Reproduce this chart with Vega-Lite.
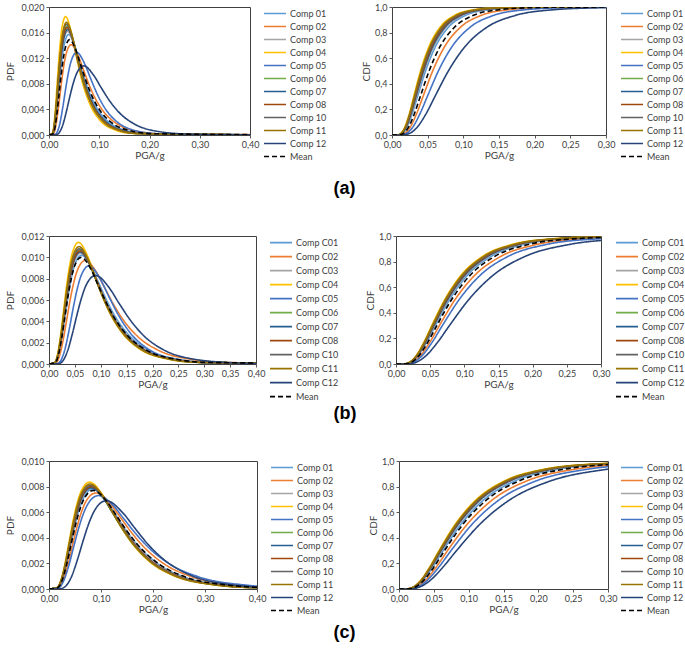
{
"$schema":"https://vega.github.io/schema/vega-lite/v6.json",
"background":"white",
"padding":{"left":4,"right":0,"top":2,"bottom":0},
"config":{
"font":"Lato",
"view":{"stroke":"#404040","strokeWidth":1},
"axis":{"grid":false,"domain":false,"tickColor":"#595959","tickSize":3,"labelFont":"Lato","labelFontSize":9,"labelColor":"#404040","titleFont":"Lato","titleFontSize":10,"titleFontWeight":"normal","titleColor":"#404040","labelPadding":2,"titlePadding":1,"labelOverlap":false,"labelFlush":false},
"legend":{"symbolType":"stroke","symbolSize":484,"symbolStrokeWidth":2,"clipHeight":13,"rowPadding":0,"labelFont":"Lato","labelFontSize":9,"labelColor":"#404040","offset":13,"padding":0,"labelOffset":3},
"line":{"strokeWidth":1.6,"interpolate":"monotone"}
},
"datasets":{
"aP":[
{"s":"Comp 01","x":0,"y":0},{"s":"Comp 01","x":0.0078,"y":0.00022},{"s":"Comp 01","x":0.0117,"y":0.00143},{"s":"Comp 01","x":0.0156,"y":0.00392},{"s":"Comp 01","x":0.0195,"y":0.0071},{"s":"Comp 01","x":0.0234,"y":0.0102},{"s":"Comp 01","x":0.0273,"y":0.01272},{"s":"Comp 01","x":0.0312,"y":0.01446},{"s":"Comp 01","x":0.039,"y":0.0157},{"s":"Comp 01","x":0.0507,"y":0.01401},{"s":"Comp 01","x":0.0585,"y":0.01196},{"s":"Comp 01","x":0.0683,"y":0.00936},{"s":"Comp 01","x":0.078,"y":0.0071},{"s":"Comp 01","x":0.0975,"y":0.00392},{"s":"Comp 01","x":0.117,"y":0.00214},{"s":"Comp 01","x":0.156,"y":0.00065},{"s":"Comp 01","x":0.195,"y":0.00022},{"s":"Comp 01","x":0.507,"y":0},
{"s":"Comp 02","x":0,"y":0},{"s":"Comp 02","x":0.0088,"y":0.00019},{"s":"Comp 02","x":0.0132,"y":0.00128},{"s":"Comp 02","x":0.0176,"y":0.00352},{"s":"Comp 02","x":0.022,"y":0.00637},{"s":"Comp 02","x":0.0264,"y":0.00916},{"s":"Comp 02","x":0.0308,"y":0.01143},{"s":"Comp 02","x":0.0352,"y":0.01299},{"s":"Comp 02","x":0.044,"y":0.0141},{"s":"Comp 02","x":0.0572,"y":0.01258},{"s":"Comp 02","x":0.066,"y":0.01075},{"s":"Comp 02","x":0.077,"y":0.0084},{"s":"Comp 02","x":0.088,"y":0.00637},{"s":"Comp 02","x":0.11,"y":0.00352},{"s":"Comp 02","x":0.132,"y":0.00192},{"s":"Comp 02","x":0.176,"y":0.00059},{"s":"Comp 02","x":0.22,"y":0.00019},{"s":"Comp 02","x":0.572,"y":0},
{"s":"Comp 03","x":0,"y":0},{"s":"Comp 03","x":0.0074,"y":0.00022},{"s":"Comp 03","x":0.0111,"y":0.00148},{"s":"Comp 03","x":0.0148,"y":0.00404},{"s":"Comp 03","x":0.0185,"y":0.00732},{"s":"Comp 03","x":0.0222,"y":0.01053},{"s":"Comp 03","x":0.0259,"y":0.01313},{"s":"Comp 03","x":0.0296,"y":0.01492},{"s":"Comp 03","x":0.037,"y":0.0162},{"s":"Comp 03","x":0.0481,"y":0.01446},{"s":"Comp 03","x":0.0555,"y":0.01235},{"s":"Comp 03","x":0.0648,"y":0.00965},{"s":"Comp 03","x":0.074,"y":0.00732},{"s":"Comp 03","x":0.0925,"y":0.00404},{"s":"Comp 03","x":0.111,"y":0.0022},{"s":"Comp 03","x":0.148,"y":0.00068},{"s":"Comp 03","x":0.185,"y":0.00022},{"s":"Comp 03","x":0.481,"y":0},
{"s":"Comp 04","x":0,"y":0},{"s":"Comp 04","x":0.0066,"y":0.00026},{"s":"Comp 04","x":0.0099,"y":0.00169},{"s":"Comp 04","x":0.0132,"y":0.00462},{"s":"Comp 04","x":0.0165,"y":0.00836},{"s":"Comp 04","x":0.0198,"y":0.01202},{"s":"Comp 04","x":0.0231,"y":0.01499},{"s":"Comp 04","x":0.0264,"y":0.01704},{"s":"Comp 04","x":0.033,"y":0.0185},{"s":"Comp 04","x":0.0429,"y":0.01651},{"s":"Comp 04","x":0.0495,"y":0.0141},{"s":"Comp 04","x":0.0578,"y":0.01102},{"s":"Comp 04","x":0.066,"y":0.00836},{"s":"Comp 04","x":0.0825,"y":0.00462},{"s":"Comp 04","x":0.099,"y":0.00252},{"s":"Comp 04","x":0.132,"y":0.00077},{"s":"Comp 04","x":0.165,"y":0.00026},{"s":"Comp 04","x":0.429,"y":0},
{"s":"Comp 05","x":0,"y":0},{"s":"Comp 05","x":0.011,"y":0.00004},{"s":"Comp 05","x":0.0165,"y":0.00049},{"s":"Comp 05","x":0.022,"y":0.00193},{"s":"Comp 05","x":0.0275,"y":0.00435},{"s":"Comp 05","x":0.033,"y":0.00715},{"s":"Comp 05","x":0.0385,"y":0.00967},{"s":"Comp 05","x":0.044,"y":0.01152},{"s":"Comp 05","x":0.055,"y":0.0129},{"s":"Comp 05","x":0.0715,"y":0.01104},{"s":"Comp 05","x":0.0825,"y":0.00889},{"s":"Comp 05","x":0.0963,"y":0.00635},{"s":"Comp 05","x":0.11,"y":0.00435},{"s":"Comp 05","x":0.1375,"y":0.00193},{"s":"Comp 05","x":0.165,"y":0.00084},{"s":"Comp 05","x":0.22,"y":0.00017},{"s":"Comp 05","x":0.275,"y":0.00004},{"s":"Comp 05","x":0.715,"y":0},
{"s":"Comp 06","x":0,"y":0},{"s":"Comp 06","x":0.0072,"y":0.00023},{"s":"Comp 06","x":0.0108,"y":0.00155},{"s":"Comp 06","x":0.0144,"y":0.00424},{"s":"Comp 06","x":0.018,"y":0.00768},{"s":"Comp 06","x":0.0216,"y":0.01104},{"s":"Comp 06","x":0.0252,"y":0.01378},{"s":"Comp 06","x":0.0288,"y":0.01566},{"s":"Comp 06","x":0.036,"y":0.017},{"s":"Comp 06","x":0.0468,"y":0.01517},{"s":"Comp 06","x":0.054,"y":0.01296},{"s":"Comp 06","x":0.063,"y":0.01013},{"s":"Comp 06","x":0.072,"y":0.00768},{"s":"Comp 06","x":0.09,"y":0.00424},{"s":"Comp 06","x":0.108,"y":0.00231},{"s":"Comp 06","x":0.144,"y":0.00071},{"s":"Comp 06","x":0.18,"y":0.00023},{"s":"Comp 06","x":0.468,"y":0},
{"s":"Comp 07","x":0,"y":0},{"s":"Comp 07","x":0.0074,"y":0.00023},{"s":"Comp 07","x":0.0111,"y":0.0015},{"s":"Comp 07","x":0.0148,"y":0.00412},{"s":"Comp 07","x":0.0185,"y":0.00746},{"s":"Comp 07","x":0.0222,"y":0.01072},{"s":"Comp 07","x":0.0259,"y":0.01337},{"s":"Comp 07","x":0.0296,"y":0.0152},{"s":"Comp 07","x":0.037,"y":0.0165},{"s":"Comp 07","x":0.0481,"y":0.01473},{"s":"Comp 07","x":0.0555,"y":0.01257},{"s":"Comp 07","x":0.0648,"y":0.00983},{"s":"Comp 07","x":0.074,"y":0.00746},{"s":"Comp 07","x":0.0925,"y":0.00412},{"s":"Comp 07","x":0.111,"y":0.00224},{"s":"Comp 07","x":0.148,"y":0.00069},{"s":"Comp 07","x":0.185,"y":0.00023},{"s":"Comp 07","x":0.481,"y":0},
{"s":"Comp 08","x":0,"y":0},{"s":"Comp 08","x":0.0072,"y":0.00023},{"s":"Comp 08","x":0.0108,"y":0.00153},{"s":"Comp 08","x":0.0144,"y":0.00419},{"s":"Comp 08","x":0.018,"y":0.00759},{"s":"Comp 08","x":0.0216,"y":0.01091},{"s":"Comp 08","x":0.0252,"y":0.01361},{"s":"Comp 08","x":0.0288,"y":0.01547},{"s":"Comp 08","x":0.036,"y":0.0168},{"s":"Comp 08","x":0.0468,"y":0.01499},{"s":"Comp 08","x":0.054,"y":0.0128},{"s":"Comp 08","x":0.063,"y":0.01001},{"s":"Comp 08","x":0.072,"y":0.00759},{"s":"Comp 08","x":0.09,"y":0.00419},{"s":"Comp 08","x":0.108,"y":0.00228},{"s":"Comp 08","x":0.144,"y":0.0007},{"s":"Comp 08","x":0.18,"y":0.00023},{"s":"Comp 08","x":0.468,"y":0},
{"s":"Comp 10","x":0,"y":0},{"s":"Comp 10","x":0.007,"y":0.00024},{"s":"Comp 10","x":0.0105,"y":0.00158},{"s":"Comp 10","x":0.014,"y":0.00432},{"s":"Comp 10","x":0.0175,"y":0.00782},{"s":"Comp 10","x":0.021,"y":0.01124},{"s":"Comp 10","x":0.0245,"y":0.01402},{"s":"Comp 10","x":0.028,"y":0.01593},{"s":"Comp 10","x":0.035,"y":0.0173},{"s":"Comp 10","x":0.0455,"y":0.01544},{"s":"Comp 10","x":0.0525,"y":0.01318},{"s":"Comp 10","x":0.0613,"y":0.01031},{"s":"Comp 10","x":0.07,"y":0.00782},{"s":"Comp 10","x":0.0875,"y":0.00432},{"s":"Comp 10","x":0.105,"y":0.00235},{"s":"Comp 10","x":0.14,"y":0.00072},{"s":"Comp 10","x":0.175,"y":0.00024},{"s":"Comp 10","x":0.455,"y":0},
{"s":"Comp 11","x":0,"y":0},{"s":"Comp 11","x":0.007,"y":0.00024},{"s":"Comp 11","x":0.0105,"y":0.0016},{"s":"Comp 11","x":0.014,"y":0.00439},{"s":"Comp 11","x":0.0175,"y":0.00796},{"s":"Comp 11","x":0.021,"y":0.01143},{"s":"Comp 11","x":0.0245,"y":0.01426},{"s":"Comp 11","x":0.028,"y":0.01621},{"s":"Comp 11","x":0.035,"y":0.0176},{"s":"Comp 11","x":0.0455,"y":0.01571},{"s":"Comp 11","x":0.0525,"y":0.01341},{"s":"Comp 11","x":0.0613,"y":0.01049},{"s":"Comp 11","x":0.07,"y":0.00796},{"s":"Comp 11","x":0.0875,"y":0.00439},{"s":"Comp 11","x":0.105,"y":0.00239},{"s":"Comp 11","x":0.14,"y":0.00073},{"s":"Comp 11","x":0.175,"y":0.00024},{"s":"Comp 11","x":0.455,"y":0},
{"s":"Comp 12","x":0,"y":0},{"s":"Comp 12","x":0.0138,"y":0.00003},{"s":"Comp 12","x":0.0207,"y":0.00041},{"s":"Comp 12","x":0.0276,"y":0.00161},{"s":"Comp 12","x":0.0345,"y":0.00364},{"s":"Comp 12","x":0.0414,"y":0.00598},{"s":"Comp 12","x":0.0483,"y":0.0081},{"s":"Comp 12","x":0.0552,"y":0.00965},{"s":"Comp 12","x":0.069,"y":0.0108},{"s":"Comp 12","x":0.0897,"y":0.00924},{"s":"Comp 12","x":0.1035,"y":0.00744},{"s":"Comp 12","x":0.1208,"y":0.00532},{"s":"Comp 12","x":0.138,"y":0.00364},{"s":"Comp 12","x":0.1725,"y":0.00161},{"s":"Comp 12","x":0.207,"y":0.0007},{"s":"Comp 12","x":0.276,"y":0.00014},{"s":"Comp 12","x":0.345,"y":0.00003},{"s":"Comp 12","x":0.897,"y":0},
{"s":"Mean","x":0,"y":0},{"s":"Mean","x":0.0082,"y":0.00021},{"s":"Mean","x":0.0123,"y":0.00136},{"s":"Mean","x":0.0164,"y":0.00372},{"s":"Mean","x":0.0205,"y":0.00673},{"s":"Mean","x":0.0246,"y":0.00968},{"s":"Mean","x":0.0287,"y":0.01207},{"s":"Mean","x":0.0328,"y":0.01372},{"s":"Mean","x":0.041,"y":0.0149},{"s":"Mean","x":0.0533,"y":0.0133},{"s":"Mean","x":0.0615,"y":0.01136},{"s":"Mean","x":0.0718,"y":0.00888},{"s":"Mean","x":0.082,"y":0.00673},{"s":"Mean","x":0.1025,"y":0.00372},{"s":"Mean","x":0.123,"y":0.00203},{"s":"Mean","x":0.164,"y":0.00062},{"s":"Mean","x":0.205,"y":0.00021},{"s":"Mean","x":0.533,"y":0}
],
"aC":[
{"s":"Comp 01","x":0,"y":0},{"s":"Comp 01","x":0.0099,"y":0.0013},{"s":"Comp 01","x":0.0128,"y":0.0062},{"s":"Comp 01","x":0.0166,"y":0.0228},{"s":"Comp 01","x":0.0215,"y":0.0668},{"s":"Comp 01","x":0.0279,"y":0.1587},{"s":"Comp 01","x":0.0362,"y":0.3085},{"s":"Comp 01","x":0.047,"y":0.5},{"s":"Comp 01","x":0.061,"y":0.6915},{"s":"Comp 01","x":0.0791,"y":0.8413},{"s":"Comp 01","x":0.1025,"y":0.9332},{"s":"Comp 01","x":0.133,"y":0.9772},{"s":"Comp 01","x":0.1725,"y":0.9938},{"s":"Comp 01","x":0.2237,"y":0.9987},{"s":"Comp 01","x":0.2901,"y":0.9998},{"s":"Comp 01","x":0.35,"y":1},
{"s":"Comp 02","x":0,"y":0},{"s":"Comp 02","x":0.012,"y":0.0013},{"s":"Comp 02","x":0.0155,"y":0.0062},{"s":"Comp 02","x":0.0201,"y":0.0228},{"s":"Comp 02","x":0.0261,"y":0.0668},{"s":"Comp 02","x":0.0339,"y":0.1587},{"s":"Comp 02","x":0.044,"y":0.3085},{"s":"Comp 02","x":0.057,"y":0.5},{"s":"Comp 02","x":0.0739,"y":0.6915},{"s":"Comp 02","x":0.0959,"y":0.8413},{"s":"Comp 02","x":0.1243,"y":0.9332},{"s":"Comp 02","x":0.1613,"y":0.9772},{"s":"Comp 02","x":0.2092,"y":0.9938},{"s":"Comp 02","x":0.2713,"y":0.9987},{"s":"Comp 02","x":0.3518,"y":0.9998},
{"s":"Comp 03","x":0,"y":0},{"s":"Comp 03","x":0.0095,"y":0.0013},{"s":"Comp 03","x":0.0123,"y":0.0062},{"s":"Comp 03","x":0.0159,"y":0.0228},{"s":"Comp 03","x":0.0206,"y":0.0668},{"s":"Comp 03","x":0.0268,"y":0.1587},{"s":"Comp 03","x":0.0347,"y":0.3085},{"s":"Comp 03","x":0.045,"y":0.5},{"s":"Comp 03","x":0.0584,"y":0.6915},{"s":"Comp 03","x":0.0757,"y":0.8413},{"s":"Comp 03","x":0.0982,"y":0.9332},{"s":"Comp 03","x":0.1273,"y":0.9772},{"s":"Comp 03","x":0.1651,"y":0.9938},{"s":"Comp 03","x":0.2141,"y":0.9987},{"s":"Comp 03","x":0.2777,"y":0.9998},{"s":"Comp 03","x":0.35,"y":1},
{"s":"Comp 04","x":0,"y":0},{"s":"Comp 04","x":0.0084,"y":0.0013},{"s":"Comp 04","x":0.0109,"y":0.0062},{"s":"Comp 04","x":0.0141,"y":0.0228},{"s":"Comp 04","x":0.0183,"y":0.0668},{"s":"Comp 04","x":0.0238,"y":0.1587},{"s":"Comp 04","x":0.0308,"y":0.3085},{"s":"Comp 04","x":0.04,"y":0.5},{"s":"Comp 04","x":0.0519,"y":0.6915},{"s":"Comp 04","x":0.0673,"y":0.8413},{"s":"Comp 04","x":0.0873,"y":0.9332},{"s":"Comp 04","x":0.1132,"y":0.9772},{"s":"Comp 04","x":0.1468,"y":0.9938},{"s":"Comp 04","x":0.1904,"y":0.9987},{"s":"Comp 04","x":0.2469,"y":0.9998},{"s":"Comp 04","x":0.35,"y":1},
{"s":"Comp 05","x":0,"y":0},{"s":"Comp 05","x":0.0137,"y":0.0013},{"s":"Comp 05","x":0.0177,"y":0.0062},{"s":"Comp 05","x":0.023,"y":0.0228},{"s":"Comp 05","x":0.0298,"y":0.0668},{"s":"Comp 05","x":0.0386,"y":0.1587},{"s":"Comp 05","x":0.0501,"y":0.3085},{"s":"Comp 05","x":0.065,"y":0.5},{"s":"Comp 05","x":0.0843,"y":0.6915},{"s":"Comp 05","x":0.1093,"y":0.8413},{"s":"Comp 05","x":0.1418,"y":0.9332},{"s":"Comp 05","x":0.1839,"y":0.9772},{"s":"Comp 05","x":0.2385,"y":0.9938},{"s":"Comp 05","x":0.3093,"y":0.9987},{"s":"Comp 05","x":0.4012,"y":0.9998},
{"s":"Comp 06","x":0,"y":0},{"s":"Comp 06","x":0.009,"y":0.0013},{"s":"Comp 06","x":0.0117,"y":0.0062},{"s":"Comp 06","x":0.0152,"y":0.0228},{"s":"Comp 06","x":0.0197,"y":0.0668},{"s":"Comp 06","x":0.0256,"y":0.1587},{"s":"Comp 06","x":0.0332,"y":0.3085},{"s":"Comp 06","x":0.043,"y":0.5},{"s":"Comp 06","x":0.0558,"y":0.6915},{"s":"Comp 06","x":0.0723,"y":0.8413},{"s":"Comp 06","x":0.0938,"y":0.9332},{"s":"Comp 06","x":0.1217,"y":0.9772},{"s":"Comp 06","x":0.1578,"y":0.9938},{"s":"Comp 06","x":0.2046,"y":0.9987},{"s":"Comp 06","x":0.2654,"y":0.9998},{"s":"Comp 06","x":0.35,"y":1},
{"s":"Comp 07","x":0,"y":0},{"s":"Comp 07","x":0.0092,"y":0.0013},{"s":"Comp 07","x":0.012,"y":0.0062},{"s":"Comp 07","x":0.0156,"y":0.0228},{"s":"Comp 07","x":0.0202,"y":0.0668},{"s":"Comp 07","x":0.0262,"y":0.1587},{"s":"Comp 07","x":0.0339,"y":0.3085},{"s":"Comp 07","x":0.044,"y":0.5},{"s":"Comp 07","x":0.0571,"y":0.6915},{"s":"Comp 07","x":0.074,"y":0.8413},{"s":"Comp 07","x":0.096,"y":0.9332},{"s":"Comp 07","x":0.1245,"y":0.9772},{"s":"Comp 07","x":0.1614,"y":0.9938},{"s":"Comp 07","x":0.2094,"y":0.9987},{"s":"Comp 07","x":0.2716,"y":0.9998},{"s":"Comp 07","x":0.35,"y":1},
{"s":"Comp 08","x":0,"y":0},{"s":"Comp 08","x":0.009,"y":0.0013},{"s":"Comp 08","x":0.0117,"y":0.0062},{"s":"Comp 08","x":0.0152,"y":0.0228},{"s":"Comp 08","x":0.0197,"y":0.0668},{"s":"Comp 08","x":0.0256,"y":0.1587},{"s":"Comp 08","x":0.0332,"y":0.3085},{"s":"Comp 08","x":0.043,"y":0.5},{"s":"Comp 08","x":0.0558,"y":0.6915},{"s":"Comp 08","x":0.0723,"y":0.8413},{"s":"Comp 08","x":0.0938,"y":0.9332},{"s":"Comp 08","x":0.1217,"y":0.9772},{"s":"Comp 08","x":0.1578,"y":0.9938},{"s":"Comp 08","x":0.2046,"y":0.9987},{"s":"Comp 08","x":0.2654,"y":0.9998},{"s":"Comp 08","x":0.35,"y":1},
{"s":"Comp 10","x":0,"y":0},{"s":"Comp 10","x":0.0088,"y":0.0013},{"s":"Comp 10","x":0.0114,"y":0.0062},{"s":"Comp 10","x":0.0148,"y":0.0228},{"s":"Comp 10","x":0.0193,"y":0.0668},{"s":"Comp 10","x":0.025,"y":0.1587},{"s":"Comp 10","x":0.0324,"y":0.3085},{"s":"Comp 10","x":0.042,"y":0.5},{"s":"Comp 10","x":0.0545,"y":0.6915},{"s":"Comp 10","x":0.0706,"y":0.8413},{"s":"Comp 10","x":0.0916,"y":0.9332},{"s":"Comp 10","x":0.1188,"y":0.9772},{"s":"Comp 10","x":0.1541,"y":0.9938},{"s":"Comp 10","x":0.1999,"y":0.9987},{"s":"Comp 10","x":0.2592,"y":0.9998},{"s":"Comp 10","x":0.35,"y":1},
{"s":"Comp 11","x":0,"y":0},{"s":"Comp 11","x":0.0086,"y":0.0013},{"s":"Comp 11","x":0.0112,"y":0.0062},{"s":"Comp 11","x":0.0145,"y":0.0228},{"s":"Comp 11","x":0.0188,"y":0.0668},{"s":"Comp 11","x":0.0244,"y":0.1587},{"s":"Comp 11","x":0.0316,"y":0.3085},{"s":"Comp 11","x":0.041,"y":0.5},{"s":"Comp 11","x":0.0532,"y":0.6915},{"s":"Comp 11","x":0.069,"y":0.8413},{"s":"Comp 11","x":0.0894,"y":0.9332},{"s":"Comp 11","x":0.116,"y":0.9772},{"s":"Comp 11","x":0.1504,"y":0.9938},{"s":"Comp 11","x":0.1951,"y":0.9987},{"s":"Comp 11","x":0.253,"y":0.9998},{"s":"Comp 11","x":0.35,"y":1},
{"s":"Comp 12","x":0,"y":0},{"s":"Comp 12","x":0.0166,"y":0.0013},{"s":"Comp 12","x":0.0215,"y":0.0062},{"s":"Comp 12","x":0.0279,"y":0.0228},{"s":"Comp 12","x":0.0362,"y":0.0668},{"s":"Comp 12","x":0.047,"y":0.1587},{"s":"Comp 12","x":0.0609,"y":0.3085},{"s":"Comp 12","x":0.079,"y":0.5},{"s":"Comp 12","x":0.1025,"y":0.6915},{"s":"Comp 12","x":0.1329,"y":0.8413},{"s":"Comp 12","x":0.1723,"y":0.9332},{"s":"Comp 12","x":0.2235,"y":0.9772},{"s":"Comp 12","x":0.2899,"y":0.9938},{"s":"Comp 12","x":0.3759,"y":0.9987},{"s":"Comp 12","x":0.4876,"y":0.9998},
{"s":"Mean","x":0,"y":0},{"s":"Mean","x":0.0109,"y":0.0013},{"s":"Mean","x":0.0142,"y":0.0062},{"s":"Mean","x":0.0184,"y":0.0228},{"s":"Mean","x":0.0238,"y":0.0668},{"s":"Mean","x":0.0309,"y":0.1587},{"s":"Mean","x":0.0401,"y":0.3085},{"s":"Mean","x":0.052,"y":0.5},{"s":"Mean","x":0.0674,"y":0.6915},{"s":"Mean","x":0.0875,"y":0.8413},{"s":"Mean","x":0.1134,"y":0.9332},{"s":"Mean","x":0.1471,"y":0.9772},{"s":"Mean","x":0.1908,"y":0.9938},{"s":"Mean","x":0.2475,"y":0.9987},{"s":"Mean","x":0.3209,"y":0.9998}
],
"bP":[
{"s":"Comp C01","x":0,"y":0},{"s":"Comp C01","x":0.0126,"y":0.00014},{"s":"Comp C01","x":0.0189,"y":0.00093},{"s":"Comp C01","x":0.0252,"y":0.00255},{"s":"Comp C01","x":0.0315,"y":0.00461},{"s":"Comp C01","x":0.0378,"y":0.00663},{"s":"Comp C01","x":0.0441,"y":0.00827},{"s":"Comp C01","x":0.0504,"y":0.00939},{"s":"Comp C01","x":0.063,"y":0.0102},{"s":"Comp C01","x":0.0819,"y":0.0091},{"s":"Comp C01","x":0.0945,"y":0.00777},{"s":"Comp C01","x":0.1103,"y":0.00608},{"s":"Comp C01","x":0.126,"y":0.00461},{"s":"Comp C01","x":0.1575,"y":0.00255},{"s":"Comp C01","x":0.189,"y":0.00139},{"s":"Comp C01","x":0.252,"y":0.00043},{"s":"Comp C01","x":0.315,"y":0.00014},{"s":"Comp C01","x":0.819,"y":0},
{"s":"Comp C02","x":0,"y":0},{"s":"Comp C02","x":0.014,"y":0.00013},{"s":"Comp C02","x":0.021,"y":0.00088},{"s":"Comp C02","x":0.028,"y":0.00242},{"s":"Comp C02","x":0.035,"y":0.00438},{"s":"Comp C02","x":0.042,"y":0.0063},{"s":"Comp C02","x":0.049,"y":0.00786},{"s":"Comp C02","x":0.056,"y":0.00893},{"s":"Comp C02","x":0.07,"y":0.0097},{"s":"Comp C02","x":0.091,"y":0.00866},{"s":"Comp C02","x":0.105,"y":0.00739},{"s":"Comp C02","x":0.1225,"y":0.00578},{"s":"Comp C02","x":0.14,"y":0.00438},{"s":"Comp C02","x":0.175,"y":0.00242},{"s":"Comp C02","x":0.21,"y":0.00132},{"s":"Comp C02","x":0.28,"y":0.0004},{"s":"Comp C02","x":0.35,"y":0.00013},{"s":"Comp C02","x":0.91,"y":0},
{"s":"Comp C03","x":0,"y":0},{"s":"Comp C03","x":0.0122,"y":0.00014},{"s":"Comp C03","x":0.0183,"y":0.00095},{"s":"Comp C03","x":0.0244,"y":0.0026},{"s":"Comp C03","x":0.0305,"y":0.0047},{"s":"Comp C03","x":0.0366,"y":0.00676},{"s":"Comp C03","x":0.0427,"y":0.00843},{"s":"Comp C03","x":0.0488,"y":0.00958},{"s":"Comp C03","x":0.061,"y":0.0104},{"s":"Comp C03","x":0.0793,"y":0.00928},{"s":"Comp C03","x":0.0915,"y":0.00793},{"s":"Comp C03","x":0.1068,"y":0.0062},{"s":"Comp C03","x":0.122,"y":0.0047},{"s":"Comp C03","x":0.1525,"y":0.0026},{"s":"Comp C03","x":0.183,"y":0.00141},{"s":"Comp C03","x":0.244,"y":0.00043},{"s":"Comp C03","x":0.305,"y":0.00014},{"s":"Comp C03","x":0.793,"y":0},
{"s":"Comp C04","x":0,"y":0},{"s":"Comp C04","x":0.0114,"y":0.00016},{"s":"Comp C04","x":0.0171,"y":0.00104},{"s":"Comp C04","x":0.0228,"y":0.00285},{"s":"Comp C04","x":0.0285,"y":0.00515},{"s":"Comp C04","x":0.0342,"y":0.00741},{"s":"Comp C04","x":0.0399,"y":0.00924},{"s":"Comp C04","x":0.0456,"y":0.0105},{"s":"Comp C04","x":0.057,"y":0.0114},{"s":"Comp C04","x":0.0741,"y":0.01017},{"s":"Comp C04","x":0.0855,"y":0.00869},{"s":"Comp C04","x":0.0998,"y":0.00679},{"s":"Comp C04","x":0.114,"y":0.00515},{"s":"Comp C04","x":0.1425,"y":0.00285},{"s":"Comp C04","x":0.171,"y":0.00155},{"s":"Comp C04","x":0.228,"y":0.00048},{"s":"Comp C04","x":0.285,"y":0.00016},{"s":"Comp C04","x":0.741,"y":0},
{"s":"Comp C05","x":0,"y":0},{"s":"Comp C05","x":0.0154,"y":0.00003},{"s":"Comp C05","x":0.0231,"y":0.00035},{"s":"Comp C05","x":0.0308,"y":0.00138},{"s":"Comp C05","x":0.0385,"y":0.0031},{"s":"Comp C05","x":0.0462,"y":0.0051},{"s":"Comp C05","x":0.0539,"y":0.0069},{"s":"Comp C05","x":0.0616,"y":0.00822},{"s":"Comp C05","x":0.077,"y":0.0092},{"s":"Comp C05","x":0.1001,"y":0.00787},{"s":"Comp C05","x":0.1155,"y":0.00634},{"s":"Comp C05","x":0.1348,"y":0.00453},{"s":"Comp C05","x":0.154,"y":0.0031},{"s":"Comp C05","x":0.1925,"y":0.00138},{"s":"Comp C05","x":0.231,"y":0.0006},{"s":"Comp C05","x":0.308,"y":0.00012},{"s":"Comp C05","x":0.385,"y":0.00003},{"s":"Comp C05","x":1.001,"y":0},
{"s":"Comp C06","x":0,"y":0},{"s":"Comp C06","x":0.0118,"y":0.00015},{"s":"Comp C06","x":0.0177,"y":0.00097},{"s":"Comp C06","x":0.0236,"y":0.00267},{"s":"Comp C06","x":0.0295,"y":0.00484},{"s":"Comp C06","x":0.0354,"y":0.00695},{"s":"Comp C06","x":0.0413,"y":0.00867},{"s":"Comp C06","x":0.0472,"y":0.00985},{"s":"Comp C06","x":0.059,"y":0.0107},{"s":"Comp C06","x":0.0767,"y":0.00955},{"s":"Comp C06","x":0.0885,"y":0.00815},{"s":"Comp C06","x":0.1033,"y":0.00638},{"s":"Comp C06","x":0.118,"y":0.00484},{"s":"Comp C06","x":0.1475,"y":0.00267},{"s":"Comp C06","x":0.177,"y":0.00146},{"s":"Comp C06","x":0.236,"y":0.00045},{"s":"Comp C06","x":0.295,"y":0.00015},{"s":"Comp C06","x":0.767,"y":0},
{"s":"Comp C07","x":0,"y":0},{"s":"Comp C07","x":0.012,"y":0.00014},{"s":"Comp C07","x":0.018,"y":0.00096},{"s":"Comp C07","x":0.024,"y":0.00262},{"s":"Comp C07","x":0.03,"y":0.00475},{"s":"Comp C07","x":0.036,"y":0.00682},{"s":"Comp C07","x":0.042,"y":0.00851},{"s":"Comp C07","x":0.048,"y":0.00967},{"s":"Comp C07","x":0.06,"y":0.0105},{"s":"Comp C07","x":0.078,"y":0.00937},{"s":"Comp C07","x":0.09,"y":0.008},{"s":"Comp C07","x":0.105,"y":0.00626},{"s":"Comp C07","x":0.12,"y":0.00475},{"s":"Comp C07","x":0.15,"y":0.00262},{"s":"Comp C07","x":0.18,"y":0.00143},{"s":"Comp C07","x":0.24,"y":0.00044},{"s":"Comp C07","x":0.3,"y":0.00014},{"s":"Comp C07","x":0.78,"y":0},
{"s":"Comp C08","x":0,"y":0},{"s":"Comp C08","x":0.012,"y":0.00015},{"s":"Comp C08","x":0.018,"y":0.00097},{"s":"Comp C08","x":0.024,"y":0.00265},{"s":"Comp C08","x":0.03,"y":0.00479},{"s":"Comp C08","x":0.036,"y":0.00689},{"s":"Comp C08","x":0.042,"y":0.00859},{"s":"Comp C08","x":0.048,"y":0.00976},{"s":"Comp C08","x":0.06,"y":0.0106},{"s":"Comp C08","x":0.078,"y":0.00946},{"s":"Comp C08","x":0.09,"y":0.00808},{"s":"Comp C08","x":0.105,"y":0.00632},{"s":"Comp C08","x":0.12,"y":0.00479},{"s":"Comp C08","x":0.15,"y":0.00265},{"s":"Comp C08","x":0.18,"y":0.00144},{"s":"Comp C08","x":0.24,"y":0.00044},{"s":"Comp C08","x":0.3,"y":0.00015},{"s":"Comp C08","x":0.78,"y":0},
{"s":"Comp C10","x":0,"y":0},{"s":"Comp C10","x":0.0118,"y":0.00015},{"s":"Comp C10","x":0.0177,"y":0.00098},{"s":"Comp C10","x":0.0236,"y":0.0027},{"s":"Comp C10","x":0.0295,"y":0.00488},{"s":"Comp C10","x":0.0354,"y":0.00702},{"s":"Comp C10","x":0.0413,"y":0.00875},{"s":"Comp C10","x":0.0472,"y":0.00995},{"s":"Comp C10","x":0.059,"y":0.0108},{"s":"Comp C10","x":0.0767,"y":0.00964},{"s":"Comp C10","x":0.0885,"y":0.00823},{"s":"Comp C10","x":0.1033,"y":0.00644},{"s":"Comp C10","x":0.118,"y":0.00488},{"s":"Comp C10","x":0.1475,"y":0.0027},{"s":"Comp C10","x":0.177,"y":0.00147},{"s":"Comp C10","x":0.236,"y":0.00045},{"s":"Comp C10","x":0.295,"y":0.00015},{"s":"Comp C10","x":0.767,"y":0},
{"s":"Comp C11","x":0,"y":0},{"s":"Comp C11","x":0.0116,"y":0.00015},{"s":"Comp C11","x":0.0174,"y":0.001},{"s":"Comp C11","x":0.0232,"y":0.00275},{"s":"Comp C11","x":0.029,"y":0.00497},{"s":"Comp C11","x":0.0348,"y":0.00715},{"s":"Comp C11","x":0.0406,"y":0.00891},{"s":"Comp C11","x":0.0464,"y":0.01013},{"s":"Comp C11","x":0.058,"y":0.011},{"s":"Comp C11","x":0.0754,"y":0.00982},{"s":"Comp C11","x":0.087,"y":0.00838},{"s":"Comp C11","x":0.1015,"y":0.00655},{"s":"Comp C11","x":0.116,"y":0.00497},{"s":"Comp C11","x":0.145,"y":0.00275},{"s":"Comp C11","x":0.174,"y":0.0015},{"s":"Comp C11","x":0.232,"y":0.00046},{"s":"Comp C11","x":0.29,"y":0.00015},{"s":"Comp C11","x":0.754,"y":0},
{"s":"Comp C12","x":0,"y":0},{"s":"Comp C12","x":0.018,"y":0.00002},{"s":"Comp C12","x":0.027,"y":0.00031},{"s":"Comp C12","x":0.036,"y":0.00124},{"s":"Comp C12","x":0.045,"y":0.0028},{"s":"Comp C12","x":0.054,"y":0.0046},{"s":"Comp C12","x":0.063,"y":0.00622},{"s":"Comp C12","x":0.072,"y":0.00742},{"s":"Comp C12","x":0.09,"y":0.0083},{"s":"Comp C12","x":0.117,"y":0.0071},{"s":"Comp C12","x":0.135,"y":0.00572},{"s":"Comp C12","x":0.1575,"y":0.00409},{"s":"Comp C12","x":0.18,"y":0.0028},{"s":"Comp C12","x":0.225,"y":0.00124},{"s":"Comp C12","x":0.27,"y":0.00054},{"s":"Comp C12","x":0.36,"y":0.00011},{"s":"Comp C12","x":0.45,"y":0.00002},{"s":"Comp C12","x":1.17,"y":0},
{"s":"Mean","x":0,"y":0},{"s":"Mean","x":0.0124,"y":0.00014},{"s":"Mean","x":0.0186,"y":0.00091},{"s":"Mean","x":0.0248,"y":0.0025},{"s":"Mean","x":0.031,"y":0.00452},{"s":"Mean","x":0.0372,"y":0.0065},{"s":"Mean","x":0.0434,"y":0.0081},{"s":"Mean","x":0.0496,"y":0.00921},{"s":"Mean","x":0.062,"y":0.01},{"s":"Mean","x":0.0806,"y":0.00893},{"s":"Mean","x":0.093,"y":0.00762},{"s":"Mean","x":0.1085,"y":0.00596},{"s":"Mean","x":0.124,"y":0.00452},{"s":"Mean","x":0.155,"y":0.0025},{"s":"Mean","x":0.186,"y":0.00136},{"s":"Mean","x":0.248,"y":0.00042},{"s":"Mean","x":0.31,"y":0.00014},{"s":"Mean","x":0.806,"y":0}
],
"bC":[
{"s":"Comp C01","x":0,"y":0},{"s":"Comp C01","x":0.0137,"y":0.0013},{"s":"Comp C01","x":0.0183,"y":0.0062},{"s":"Comp C01","x":0.0245,"y":0.0228},{"s":"Comp C01","x":0.0327,"y":0.0668},{"s":"Comp C01","x":0.0437,"y":0.1587},{"s":"Comp C01","x":0.0584,"y":0.3085},{"s":"Comp C01","x":0.078,"y":0.5},{"s":"Comp C01","x":0.1042,"y":0.6915},{"s":"Comp C01","x":0.1393,"y":0.8413},{"s":"Comp C01","x":0.1862,"y":0.9332},{"s":"Comp C01","x":0.2488,"y":0.9772},{"s":"Comp C01","x":0.3325,"y":0.9938},{"s":"Comp C01","x":0.4444,"y":0.9987},
{"s":"Comp C02","x":0,"y":0},{"s":"Comp C02","x":0.0151,"y":0.0013},{"s":"Comp C02","x":0.0202,"y":0.0062},{"s":"Comp C02","x":0.027,"y":0.0228},{"s":"Comp C02","x":0.036,"y":0.0668},{"s":"Comp C02","x":0.0482,"y":0.1587},{"s":"Comp C02","x":0.0644,"y":0.3085},{"s":"Comp C02","x":0.086,"y":0.5},{"s":"Comp C02","x":0.1149,"y":0.6915},{"s":"Comp C02","x":0.1536,"y":0.8413},{"s":"Comp C02","x":0.2053,"y":0.9332},{"s":"Comp C02","x":0.2743,"y":0.9772},{"s":"Comp C02","x":0.3666,"y":0.9938},{"s":"Comp C02","x":0.49,"y":0.9987},
{"s":"Comp C03","x":0,"y":0},{"s":"Comp C03","x":0.0133,"y":0.0013},{"s":"Comp C03","x":0.0178,"y":0.0062},{"s":"Comp C03","x":0.0238,"y":0.0228},{"s":"Comp C03","x":0.0318,"y":0.0668},{"s":"Comp C03","x":0.0426,"y":0.1587},{"s":"Comp C03","x":0.0569,"y":0.3085},{"s":"Comp C03","x":0.076,"y":0.5},{"s":"Comp C03","x":0.1016,"y":0.6915},{"s":"Comp C03","x":0.1357,"y":0.8413},{"s":"Comp C03","x":0.1814,"y":0.9332},{"s":"Comp C03","x":0.2424,"y":0.9772},{"s":"Comp C03","x":0.324,"y":0.9938},{"s":"Comp C03","x":0.433,"y":0.9987},
{"s":"Comp C04","x":0,"y":0},{"s":"Comp C04","x":0.0125,"y":0.0013},{"s":"Comp C04","x":0.0167,"y":0.0062},{"s":"Comp C04","x":0.0223,"y":0.0228},{"s":"Comp C04","x":0.0297,"y":0.0668},{"s":"Comp C04","x":0.0398,"y":0.1587},{"s":"Comp C04","x":0.0531,"y":0.3085},{"s":"Comp C04","x":0.071,"y":0.5},{"s":"Comp C04","x":0.0949,"y":0.6915},{"s":"Comp C04","x":0.1268,"y":0.8413},{"s":"Comp C04","x":0.1695,"y":0.9332},{"s":"Comp C04","x":0.2265,"y":0.9772},{"s":"Comp C04","x":0.3027,"y":0.9938},{"s":"Comp C04","x":0.4045,"y":0.9987},
{"s":"Comp C05","x":0,"y":0},{"s":"Comp C05","x":0.0161,"y":0.0013},{"s":"Comp C05","x":0.0216,"y":0.0062},{"s":"Comp C05","x":0.0288,"y":0.0228},{"s":"Comp C05","x":0.0385,"y":0.0668},{"s":"Comp C05","x":0.0515,"y":0.1587},{"s":"Comp C05","x":0.0688,"y":0.3085},{"s":"Comp C05","x":0.092,"y":0.5},{"s":"Comp C05","x":0.1229,"y":0.6915},{"s":"Comp C05","x":0.1643,"y":0.8413},{"s":"Comp C05","x":0.2196,"y":0.9332},{"s":"Comp C05","x":0.2935,"y":0.9772},{"s":"Comp C05","x":0.3922,"y":0.9938},{"s":"Comp C05","x":0.5242,"y":0.9987},
{"s":"Comp C06","x":0,"y":0},{"s":"Comp C06","x":0.013,"y":0.0013},{"s":"Comp C06","x":0.0174,"y":0.0062},{"s":"Comp C06","x":0.0232,"y":0.0228},{"s":"Comp C06","x":0.031,"y":0.0668},{"s":"Comp C06","x":0.0414,"y":0.1587},{"s":"Comp C06","x":0.0554,"y":0.3085},{"s":"Comp C06","x":0.074,"y":0.5},{"s":"Comp C06","x":0.0989,"y":0.6915},{"s":"Comp C06","x":0.1322,"y":0.8413},{"s":"Comp C06","x":0.1766,"y":0.9332},{"s":"Comp C06","x":0.2361,"y":0.9772},{"s":"Comp C06","x":0.3155,"y":0.9938},{"s":"Comp C06","x":0.4216,"y":0.9987},
{"s":"Comp C07","x":0,"y":0},{"s":"Comp C07","x":0.0132,"y":0.0013},{"s":"Comp C07","x":0.0176,"y":0.0062},{"s":"Comp C07","x":0.0235,"y":0.0228},{"s":"Comp C07","x":0.0314,"y":0.0668},{"s":"Comp C07","x":0.042,"y":0.1587},{"s":"Comp C07","x":0.0561,"y":0.3085},{"s":"Comp C07","x":0.075,"y":0.5},{"s":"Comp C07","x":0.1002,"y":0.6915},{"s":"Comp C07","x":0.134,"y":0.8413},{"s":"Comp C07","x":0.179,"y":0.9332},{"s":"Comp C07","x":0.2392,"y":0.9772},{"s":"Comp C07","x":0.3197,"y":0.9938},{"s":"Comp C07","x":0.4273,"y":0.9987},
{"s":"Comp C08","x":0,"y":0},{"s":"Comp C08","x":0.013,"y":0.0013},{"s":"Comp C08","x":0.0174,"y":0.0062},{"s":"Comp C08","x":0.0232,"y":0.0228},{"s":"Comp C08","x":0.031,"y":0.0668},{"s":"Comp C08","x":0.0414,"y":0.1587},{"s":"Comp C08","x":0.0554,"y":0.3085},{"s":"Comp C08","x":0.074,"y":0.5},{"s":"Comp C08","x":0.0989,"y":0.6915},{"s":"Comp C08","x":0.1322,"y":0.8413},{"s":"Comp C08","x":0.1766,"y":0.9332},{"s":"Comp C08","x":0.2361,"y":0.9772},{"s":"Comp C08","x":0.3155,"y":0.9938},{"s":"Comp C08","x":0.4216,"y":0.9987},
{"s":"Comp C10","x":0,"y":0},{"s":"Comp C10","x":0.0128,"y":0.0013},{"s":"Comp C10","x":0.0171,"y":0.0062},{"s":"Comp C10","x":0.0229,"y":0.0228},{"s":"Comp C10","x":0.0306,"y":0.0668},{"s":"Comp C10","x":0.0409,"y":0.1587},{"s":"Comp C10","x":0.0546,"y":0.3085},{"s":"Comp C10","x":0.073,"y":0.5},{"s":"Comp C10","x":0.0976,"y":0.6915},{"s":"Comp C10","x":0.1304,"y":0.8413},{"s":"Comp C10","x":0.1742,"y":0.9332},{"s":"Comp C10","x":0.2329,"y":0.9772},{"s":"Comp C10","x":0.3112,"y":0.9938},{"s":"Comp C10","x":0.4159,"y":0.9987},
{"s":"Comp C11","x":0,"y":0},{"s":"Comp C11","x":0.0126,"y":0.0013},{"s":"Comp C11","x":0.0169,"y":0.0062},{"s":"Comp C11","x":0.0226,"y":0.0228},{"s":"Comp C11","x":0.0302,"y":0.0668},{"s":"Comp C11","x":0.0403,"y":0.1587},{"s":"Comp C11","x":0.0539,"y":0.3085},{"s":"Comp C11","x":0.072,"y":0.5},{"s":"Comp C11","x":0.0962,"y":0.6915},{"s":"Comp C11","x":0.1286,"y":0.8413},{"s":"Comp C11","x":0.1719,"y":0.9332},{"s":"Comp C11","x":0.2297,"y":0.9772},{"s":"Comp C11","x":0.3069,"y":0.9938},{"s":"Comp C11","x":0.4102,"y":0.9987},
{"s":"Comp C12","x":0,"y":0},{"s":"Comp C12","x":0.0186,"y":0.0013},{"s":"Comp C12","x":0.0249,"y":0.0062},{"s":"Comp C12","x":0.0332,"y":0.0228},{"s":"Comp C12","x":0.0444,"y":0.0668},{"s":"Comp C12","x":0.0593,"y":0.1587},{"s":"Comp C12","x":0.0793,"y":0.3085},{"s":"Comp C12","x":0.106,"y":0.5},{"s":"Comp C12","x":0.1417,"y":0.6915},{"s":"Comp C12","x":0.1893,"y":0.8413},{"s":"Comp C12","x":0.253,"y":0.9332},{"s":"Comp C12","x":0.3381,"y":0.9772},{"s":"Comp C12","x":0.4519,"y":0.9938},{"s":"Comp C12","x":0.6039,"y":0.9987},
{"s":"Mean","x":0,"y":0},{"s":"Mean","x":0.0142,"y":0.0013},{"s":"Mean","x":0.019,"y":0.0062},{"s":"Mean","x":0.0254,"y":0.0228},{"s":"Mean","x":0.0339,"y":0.0668},{"s":"Mean","x":0.0454,"y":0.1587},{"s":"Mean","x":0.0606,"y":0.3085},{"s":"Mean","x":0.081,"y":0.5},{"s":"Mean","x":0.1082,"y":0.6915},{"s":"Mean","x":0.1447,"y":0.8413},{"s":"Mean","x":0.1933,"y":0.9332},{"s":"Mean","x":0.2584,"y":0.9772},{"s":"Mean","x":0.3453,"y":0.9938},{"s":"Mean","x":0.4615,"y":0.9987}
],
"cP":[
{"s":"Comp 01","x":0,"y":0},{"s":"Comp 01","x":0.0168,"y":0.00011},{"s":"Comp 01","x":0.0252,"y":0.00071},{"s":"Comp 01","x":0.0336,"y":0.00195},{"s":"Comp 01","x":0.042,"y":0.00353},{"s":"Comp 01","x":0.0504,"y":0.00507},{"s":"Comp 01","x":0.0588,"y":0.00632},{"s":"Comp 01","x":0.0672,"y":0.00718},{"s":"Comp 01","x":0.084,"y":0.0078},{"s":"Comp 01","x":0.1092,"y":0.00696},{"s":"Comp 01","x":0.126,"y":0.00594},{"s":"Comp 01","x":0.147,"y":0.00465},{"s":"Comp 01","x":0.168,"y":0.00353},{"s":"Comp 01","x":0.21,"y":0.00195},{"s":"Comp 01","x":0.252,"y":0.00106},{"s":"Comp 01","x":0.336,"y":0.00033},{"s":"Comp 01","x":0.42,"y":0.00011},{"s":"Comp 01","x":1.092,"y":0},
{"s":"Comp 02","x":0,"y":0},{"s":"Comp 02","x":0.018,"y":0.0001},{"s":"Comp 02","x":0.027,"y":0.00068},{"s":"Comp 02","x":0.036,"y":0.00187},{"s":"Comp 02","x":0.045,"y":0.00339},{"s":"Comp 02","x":0.054,"y":0.00487},{"s":"Comp 02","x":0.063,"y":0.00608},{"s":"Comp 02","x":0.072,"y":0.00691},{"s":"Comp 02","x":0.09,"y":0.0075},{"s":"Comp 02","x":0.117,"y":0.00669},{"s":"Comp 02","x":0.135,"y":0.00572},{"s":"Comp 02","x":0.1575,"y":0.00447},{"s":"Comp 02","x":0.18,"y":0.00339},{"s":"Comp 02","x":0.225,"y":0.00187},{"s":"Comp 02","x":0.27,"y":0.00102},{"s":"Comp 02","x":0.36,"y":0.00031},{"s":"Comp 02","x":0.45,"y":0.0001},{"s":"Comp 02","x":1.17,"y":0},
{"s":"Comp 03","x":0,"y":0},{"s":"Comp 03","x":0.0164,"y":0.00011},{"s":"Comp 03","x":0.0246,"y":0.00072},{"s":"Comp 03","x":0.0328,"y":0.00197},{"s":"Comp 03","x":0.041,"y":0.00357},{"s":"Comp 03","x":0.0492,"y":0.00513},{"s":"Comp 03","x":0.0574,"y":0.0064},{"s":"Comp 03","x":0.0656,"y":0.00728},{"s":"Comp 03","x":0.082,"y":0.0079},{"s":"Comp 03","x":0.1066,"y":0.00705},{"s":"Comp 03","x":0.123,"y":0.00602},{"s":"Comp 03","x":0.1435,"y":0.00471},{"s":"Comp 03","x":0.164,"y":0.00357},{"s":"Comp 03","x":0.205,"y":0.00197},{"s":"Comp 03","x":0.246,"y":0.00107},{"s":"Comp 03","x":0.328,"y":0.00033},{"s":"Comp 03","x":0.41,"y":0.00011},{"s":"Comp 03","x":1.066,"y":0},
{"s":"Comp 04","x":0,"y":0},{"s":"Comp 04","x":0.0156,"y":0.00012},{"s":"Comp 04","x":0.0234,"y":0.00076},{"s":"Comp 04","x":0.0312,"y":0.00208},{"s":"Comp 04","x":0.039,"y":0.00377},{"s":"Comp 04","x":0.0468,"y":0.00543},{"s":"Comp 04","x":0.0546,"y":0.00677},{"s":"Comp 04","x":0.0624,"y":0.00769},{"s":"Comp 04","x":0.078,"y":0.00835},{"s":"Comp 04","x":0.1014,"y":0.00745},{"s":"Comp 04","x":0.117,"y":0.00636},{"s":"Comp 04","x":0.1365,"y":0.00498},{"s":"Comp 04","x":0.156,"y":0.00377},{"s":"Comp 04","x":0.195,"y":0.00208},{"s":"Comp 04","x":0.234,"y":0.00114},{"s":"Comp 04","x":0.312,"y":0.00035},{"s":"Comp 04","x":0.39,"y":0.00012},{"s":"Comp 04","x":1.014,"y":0},
{"s":"Comp 05","x":0,"y":0},{"s":"Comp 05","x":0.019,"y":0.0001},{"s":"Comp 05","x":0.0285,"y":0.00067},{"s":"Comp 05","x":0.038,"y":0.00182},{"s":"Comp 05","x":0.0475,"y":0.0033},{"s":"Comp 05","x":0.057,"y":0.00474},{"s":"Comp 05","x":0.0665,"y":0.00592},{"s":"Comp 05","x":0.076,"y":0.00672},{"s":"Comp 05","x":0.095,"y":0.0073},{"s":"Comp 05","x":0.1235,"y":0.00652},{"s":"Comp 05","x":0.1425,"y":0.00556},{"s":"Comp 05","x":0.1663,"y":0.00435},{"s":"Comp 05","x":0.19,"y":0.0033},{"s":"Comp 05","x":0.2375,"y":0.00182},{"s":"Comp 05","x":0.285,"y":0.00099},{"s":"Comp 05","x":0.38,"y":0.0003},{"s":"Comp 05","x":0.475,"y":0.0001},{"s":"Comp 05","x":1.235,"y":0},
{"s":"Comp 06","x":0,"y":0},{"s":"Comp 06","x":0.016,"y":0.00011},{"s":"Comp 06","x":0.024,"y":0.00073},{"s":"Comp 06","x":0.032,"y":0.002},{"s":"Comp 06","x":0.04,"y":0.00362},{"s":"Comp 06","x":0.048,"y":0.0052},{"s":"Comp 06","x":0.056,"y":0.00648},{"s":"Comp 06","x":0.064,"y":0.00737},{"s":"Comp 06","x":0.08,"y":0.008},{"s":"Comp 06","x":0.104,"y":0.00714},{"s":"Comp 06","x":0.12,"y":0.0061},{"s":"Comp 06","x":0.14,"y":0.00477},{"s":"Comp 06","x":0.16,"y":0.00362},{"s":"Comp 06","x":0.2,"y":0.002},{"s":"Comp 06","x":0.24,"y":0.00109},{"s":"Comp 06","x":0.32,"y":0.00033},{"s":"Comp 06","x":0.4,"y":0.00011},{"s":"Comp 06","x":1.04,"y":0},
{"s":"Comp 07","x":0,"y":0},{"s":"Comp 07","x":0.0162,"y":0.00011},{"s":"Comp 07","x":0.0243,"y":0.00072},{"s":"Comp 07","x":0.0324,"y":0.00197},{"s":"Comp 07","x":0.0405,"y":0.00357},{"s":"Comp 07","x":0.0486,"y":0.00513},{"s":"Comp 07","x":0.0567,"y":0.0064},{"s":"Comp 07","x":0.0648,"y":0.00728},{"s":"Comp 07","x":0.081,"y":0.0079},{"s":"Comp 07","x":0.1053,"y":0.00705},{"s":"Comp 07","x":0.1215,"y":0.00602},{"s":"Comp 07","x":0.1418,"y":0.00471},{"s":"Comp 07","x":0.162,"y":0.00357},{"s":"Comp 07","x":0.2025,"y":0.00197},{"s":"Comp 07","x":0.243,"y":0.00107},{"s":"Comp 07","x":0.324,"y":0.00033},{"s":"Comp 07","x":0.405,"y":0.00011},{"s":"Comp 07","x":1.053,"y":0},
{"s":"Comp 08","x":0,"y":0},{"s":"Comp 08","x":0.0162,"y":0.00011},{"s":"Comp 08","x":0.0243,"y":0.00073},{"s":"Comp 08","x":0.0324,"y":0.002},{"s":"Comp 08","x":0.0405,"y":0.00362},{"s":"Comp 08","x":0.0486,"y":0.0052},{"s":"Comp 08","x":0.0567,"y":0.00648},{"s":"Comp 08","x":0.0648,"y":0.00737},{"s":"Comp 08","x":0.081,"y":0.008},{"s":"Comp 08","x":0.1053,"y":0.00714},{"s":"Comp 08","x":0.1215,"y":0.0061},{"s":"Comp 08","x":0.1418,"y":0.00477},{"s":"Comp 08","x":0.162,"y":0.00362},{"s":"Comp 08","x":0.2025,"y":0.002},{"s":"Comp 08","x":0.243,"y":0.00109},{"s":"Comp 08","x":0.324,"y":0.00033},{"s":"Comp 08","x":0.405,"y":0.00011},{"s":"Comp 08","x":1.053,"y":0},
{"s":"Comp 10","x":0,"y":0},{"s":"Comp 10","x":0.016,"y":0.00011},{"s":"Comp 10","x":0.024,"y":0.00074},{"s":"Comp 10","x":0.032,"y":0.00202},{"s":"Comp 10","x":0.04,"y":0.00366},{"s":"Comp 10","x":0.048,"y":0.00526},{"s":"Comp 10","x":0.056,"y":0.00656},{"s":"Comp 10","x":0.064,"y":0.00746},{"s":"Comp 10","x":0.08,"y":0.0081},{"s":"Comp 10","x":0.104,"y":0.00723},{"s":"Comp 10","x":0.12,"y":0.00617},{"s":"Comp 10","x":0.14,"y":0.00483},{"s":"Comp 10","x":0.16,"y":0.00366},{"s":"Comp 10","x":0.2,"y":0.00202},{"s":"Comp 10","x":0.24,"y":0.0011},{"s":"Comp 10","x":0.32,"y":0.00034},{"s":"Comp 10","x":0.4,"y":0.00011},{"s":"Comp 10","x":1.04,"y":0},
{"s":"Comp 11","x":0,"y":0},{"s":"Comp 11","x":0.0158,"y":0.00011},{"s":"Comp 11","x":0.0237,"y":0.00075},{"s":"Comp 11","x":0.0316,"y":0.00205},{"s":"Comp 11","x":0.0395,"y":0.00371},{"s":"Comp 11","x":0.0474,"y":0.00533},{"s":"Comp 11","x":0.0553,"y":0.00665},{"s":"Comp 11","x":0.0632,"y":0.00755},{"s":"Comp 11","x":0.079,"y":0.0082},{"s":"Comp 11","x":0.1027,"y":0.00732},{"s":"Comp 11","x":0.1185,"y":0.00625},{"s":"Comp 11","x":0.1383,"y":0.00489},{"s":"Comp 11","x":0.158,"y":0.00371},{"s":"Comp 11","x":0.1975,"y":0.00205},{"s":"Comp 11","x":0.237,"y":0.00112},{"s":"Comp 11","x":0.316,"y":0.00034},{"s":"Comp 11","x":0.395,"y":0.00011},{"s":"Comp 11","x":1.027,"y":0},
{"s":"Comp 12","x":0,"y":0},{"s":"Comp 12","x":0.022,"y":0.00002},{"s":"Comp 12","x":0.033,"y":0.00026},{"s":"Comp 12","x":0.044,"y":0.00103},{"s":"Comp 12","x":0.055,"y":0.00233},{"s":"Comp 12","x":0.066,"y":0.00382},{"s":"Comp 12","x":0.077,"y":0.00517},{"s":"Comp 12","x":0.088,"y":0.00616},{"s":"Comp 12","x":0.11,"y":0.0069},{"s":"Comp 12","x":0.143,"y":0.0059},{"s":"Comp 12","x":0.165,"y":0.00476},{"s":"Comp 12","x":0.1925,"y":0.0034},{"s":"Comp 12","x":0.22,"y":0.00233},{"s":"Comp 12","x":0.275,"y":0.00103},{"s":"Comp 12","x":0.33,"y":0.00045},{"s":"Comp 12","x":0.44,"y":0.00009},{"s":"Comp 12","x":0.55,"y":0.00002},{"s":"Comp 12","x":1.43,"y":0},
{"s":"Mean","x":0,"y":0},{"s":"Mean","x":0.017,"y":0.00011},{"s":"Mean","x":0.0255,"y":0.0007},{"s":"Mean","x":0.034,"y":0.00192},{"s":"Mean","x":0.0425,"y":0.00348},{"s":"Mean","x":0.051,"y":0.005},{"s":"Mean","x":0.0595,"y":0.00624},{"s":"Mean","x":0.068,"y":0.00709},{"s":"Mean","x":0.085,"y":0.0077},{"s":"Mean","x":0.1105,"y":0.00687},{"s":"Mean","x":0.1275,"y":0.00587},{"s":"Mean","x":0.1488,"y":0.00459},{"s":"Mean","x":0.17,"y":0.00348},{"s":"Mean","x":0.2125,"y":0.00192},{"s":"Mean","x":0.255,"y":0.00105},{"s":"Mean","x":0.34,"y":0.00032},{"s":"Mean","x":0.425,"y":0.00011},{"s":"Mean","x":1.105,"y":0}
],
"cC":[
{"s":"Comp 01","x":0,"y":0},{"s":"Comp 01","x":0.0133,"y":0.0013},{"s":"Comp 01","x":0.0182,"y":0.0062},{"s":"Comp 01","x":0.025,"y":0.0228},{"s":"Comp 01","x":0.0342,"y":0.0668},{"s":"Comp 01","x":0.0469,"y":0.1587},{"s":"Comp 01","x":0.0642,"y":0.3085},{"s":"Comp 01","x":0.088,"y":0.5},{"s":"Comp 01","x":0.1206,"y":0.6915},{"s":"Comp 01","x":0.1652,"y":0.8413},{"s":"Comp 01","x":0.2264,"y":0.9332},{"s":"Comp 01","x":0.3102,"y":0.9772},{"s":"Comp 01","x":0.4251,"y":0.9938},
{"s":"Comp 02","x":0,"y":0},{"s":"Comp 02","x":0.0147,"y":0.0013},{"s":"Comp 02","x":0.0201,"y":0.0062},{"s":"Comp 02","x":0.0275,"y":0.0228},{"s":"Comp 02","x":0.0377,"y":0.0668},{"s":"Comp 02","x":0.0517,"y":0.1587},{"s":"Comp 02","x":0.0708,"y":0.3085},{"s":"Comp 02","x":0.097,"y":0.5},{"s":"Comp 02","x":0.1329,"y":0.6915},{"s":"Comp 02","x":0.1821,"y":0.8413},{"s":"Comp 02","x":0.2496,"y":0.9332},{"s":"Comp 02","x":0.342,"y":0.9772},{"s":"Comp 02","x":0.4686,"y":0.9938},
{"s":"Comp 03","x":0,"y":0},{"s":"Comp 03","x":0.0128,"y":0.0013},{"s":"Comp 03","x":0.0176,"y":0.0062},{"s":"Comp 03","x":0.0241,"y":0.0228},{"s":"Comp 03","x":0.033,"y":0.0668},{"s":"Comp 03","x":0.0453,"y":0.1587},{"s":"Comp 03","x":0.062,"y":0.3085},{"s":"Comp 03","x":0.085,"y":0.5},{"s":"Comp 03","x":0.1165,"y":0.6915},{"s":"Comp 03","x":0.1596,"y":0.8413},{"s":"Comp 03","x":0.2187,"y":0.9332},{"s":"Comp 03","x":0.2997,"y":0.9772},{"s":"Comp 03","x":0.4106,"y":0.9938},
{"s":"Comp 04","x":0,"y":0},{"s":"Comp 04","x":0.0121,"y":0.0013},{"s":"Comp 04","x":0.0166,"y":0.0062},{"s":"Comp 04","x":0.0227,"y":0.0228},{"s":"Comp 04","x":0.0311,"y":0.0668},{"s":"Comp 04","x":0.0426,"y":0.1587},{"s":"Comp 04","x":0.0584,"y":0.3085},{"s":"Comp 04","x":0.08,"y":0.5},{"s":"Comp 04","x":0.1096,"y":0.6915},{"s":"Comp 04","x":0.1502,"y":0.8413},{"s":"Comp 04","x":0.2058,"y":0.9332},{"s":"Comp 04","x":0.282,"y":0.9772},{"s":"Comp 04","x":0.3864,"y":0.9938},
{"s":"Comp 05","x":0,"y":0},{"s":"Comp 05","x":0.0157,"y":0.0013},{"s":"Comp 05","x":0.0215,"y":0.0062},{"s":"Comp 05","x":0.0295,"y":0.0228},{"s":"Comp 05","x":0.0404,"y":0.0668},{"s":"Comp 05","x":0.0554,"y":0.1587},{"s":"Comp 05","x":0.0759,"y":0.3085},{"s":"Comp 05","x":0.104,"y":0.5},{"s":"Comp 05","x":0.1425,"y":0.6915},{"s":"Comp 05","x":0.1953,"y":0.8413},{"s":"Comp 05","x":0.2676,"y":0.9332},{"s":"Comp 05","x":0.3666,"y":0.9772},{"s":"Comp 05","x":0.5024,"y":0.9938},
{"s":"Comp 06","x":0,"y":0},{"s":"Comp 06","x":0.0125,"y":0.0013},{"s":"Comp 06","x":0.0172,"y":0.0062},{"s":"Comp 06","x":0.0235,"y":0.0228},{"s":"Comp 06","x":0.0323,"y":0.0668},{"s":"Comp 06","x":0.0442,"y":0.1587},{"s":"Comp 06","x":0.0606,"y":0.3085},{"s":"Comp 06","x":0.083,"y":0.5},{"s":"Comp 06","x":0.1137,"y":0.6915},{"s":"Comp 06","x":0.1558,"y":0.8413},{"s":"Comp 06","x":0.2135,"y":0.9332},{"s":"Comp 06","x":0.2926,"y":0.9772},{"s":"Comp 06","x":0.4009,"y":0.9938},
{"s":"Comp 07","x":0,"y":0},{"s":"Comp 07","x":0.0127,"y":0.0013},{"s":"Comp 07","x":0.0174,"y":0.0062},{"s":"Comp 07","x":0.0238,"y":0.0228},{"s":"Comp 07","x":0.0327,"y":0.0668},{"s":"Comp 07","x":0.0447,"y":0.1587},{"s":"Comp 07","x":0.0613,"y":0.3085},{"s":"Comp 07","x":0.084,"y":0.5},{"s":"Comp 07","x":0.1151,"y":0.6915},{"s":"Comp 07","x":0.1577,"y":0.8413},{"s":"Comp 07","x":0.2161,"y":0.9332},{"s":"Comp 07","x":0.2961,"y":0.9772},{"s":"Comp 07","x":0.4058,"y":0.9938},
{"s":"Comp 08","x":0,"y":0},{"s":"Comp 08","x":0.0125,"y":0.0013},{"s":"Comp 08","x":0.0172,"y":0.0062},{"s":"Comp 08","x":0.0235,"y":0.0228},{"s":"Comp 08","x":0.0323,"y":0.0668},{"s":"Comp 08","x":0.0442,"y":0.1587},{"s":"Comp 08","x":0.0606,"y":0.3085},{"s":"Comp 08","x":0.083,"y":0.5},{"s":"Comp 08","x":0.1137,"y":0.6915},{"s":"Comp 08","x":0.1558,"y":0.8413},{"s":"Comp 08","x":0.2135,"y":0.9332},{"s":"Comp 08","x":0.2926,"y":0.9772},{"s":"Comp 08","x":0.4009,"y":0.9938},
{"s":"Comp 10","x":0,"y":0},{"s":"Comp 10","x":0.0124,"y":0.0013},{"s":"Comp 10","x":0.017,"y":0.0062},{"s":"Comp 10","x":0.0233,"y":0.0228},{"s":"Comp 10","x":0.0319,"y":0.0668},{"s":"Comp 10","x":0.0437,"y":0.1587},{"s":"Comp 10","x":0.0598,"y":0.3085},{"s":"Comp 10","x":0.082,"y":0.5},{"s":"Comp 10","x":0.1124,"y":0.6915},{"s":"Comp 10","x":0.154,"y":0.8413},{"s":"Comp 10","x":0.211,"y":0.9332},{"s":"Comp 10","x":0.2891,"y":0.9772},{"s":"Comp 10","x":0.3961,"y":0.9938},
{"s":"Comp 11","x":0,"y":0},{"s":"Comp 11","x":0.0122,"y":0.0013},{"s":"Comp 11","x":0.0168,"y":0.0062},{"s":"Comp 11","x":0.023,"y":0.0228},{"s":"Comp 11","x":0.0315,"y":0.0668},{"s":"Comp 11","x":0.0431,"y":0.1587},{"s":"Comp 11","x":0.0591,"y":0.3085},{"s":"Comp 11","x":0.081,"y":0.5},{"s":"Comp 11","x":0.111,"y":0.6915},{"s":"Comp 11","x":0.1521,"y":0.8413},{"s":"Comp 11","x":0.2084,"y":0.9332},{"s":"Comp 11","x":0.2856,"y":0.9772},{"s":"Comp 11","x":0.3913,"y":0.9938},
{"s":"Comp 12","x":0,"y":0},{"s":"Comp 12","x":0.0174,"y":0.0013},{"s":"Comp 12","x":0.0238,"y":0.0062},{"s":"Comp 12","x":0.0326,"y":0.0228},{"s":"Comp 12","x":0.0447,"y":0.0668},{"s":"Comp 12","x":0.0612,"y":0.1587},{"s":"Comp 12","x":0.0839,"y":0.3085},{"s":"Comp 12","x":0.115,"y":0.5},{"s":"Comp 12","x":0.1576,"y":0.6915},{"s":"Comp 12","x":0.2159,"y":0.8413},{"s":"Comp 12","x":0.2959,"y":0.9332},{"s":"Comp 12","x":0.4054,"y":0.9772},{"s":"Comp 12","x":0.5555,"y":0.9938},
{"s":"Mean","x":0,"y":0},{"s":"Mean","x":0.0138,"y":0.0013},{"s":"Mean","x":0.0188,"y":0.0062},{"s":"Mean","x":0.0258,"y":0.0228},{"s":"Mean","x":0.0354,"y":0.0668},{"s":"Mean","x":0.0485,"y":0.1587},{"s":"Mean","x":0.0664,"y":0.3085},{"s":"Mean","x":0.091,"y":0.5},{"s":"Mean","x":0.1247,"y":0.6915},{"s":"Mean","x":0.1709,"y":0.8413},{"s":"Mean","x":0.2341,"y":0.9332},{"s":"Mean","x":0.3208,"y":0.9772},{"s":"Mean","x":0.4396,"y":0.9938}
]
},
"columns":1,
"align":"none",
"spacing":33,
"concat":[
{"hconcat":[
{"width":201,"height":128,"data":{"name":"aP"},"mark":{"type":"line","clip":true},
"encoding":{
"x":{"field":"x","type":"quantitative","title":"PGA/g","scale":{"domain":[0,0.4],"nice":false,"zero":false},"axis":{"values":[0,0.1,0.2,0.3,0.4],"labelExpr":"replace(format(datum.value,'.2f'),'.',',')"}},
"y":{"field":"y","type":"quantitative","title":"PDF","scale":{"domain":[0,0.02],"nice":false},"axis":{"values":[0,0.004,0.008,0.012,0.016,0.02],"titlePadding":6,"labelExpr":"replace(format(datum.value,'.3f'),'.',',')"}},
"color":{"field":"s","type":"nominal","title":null,"scale":{"domain":["Comp 01","Comp 02","Comp 03","Comp 04","Comp 05","Comp 06","Comp 07","Comp 08","Comp 10","Comp 11","Comp 12","Mean"],"range":["#5B9BD5","#ED7D31","#A5A5A5","#FFC000","#4472C4","#70AD47","#255E91","#9E480E","#636363","#997300","#264478","#000000"]},"legend":{"offset":13}},
"strokeDash":{"field":"s","type":"nominal","title":null,"scale":{"domain":["Comp 01","Comp 02","Comp 03","Comp 04","Comp 05","Comp 06","Comp 07","Comp 08","Comp 10","Comp 11","Comp 12","Mean"],"range":[[1,0],[1,0],[1,0],[1,0],[1,0],[1,0],[1,0],[1,0],[1,0],[1,0],[1,0],[5,3]]},"legend":{"offset":13}}
}},
{"width":214,"height":128,"data":{"name":"aC"},"mark":{"type":"line","clip":true},
"encoding":{
"x":{"field":"x","type":"quantitative","title":"PGA/g","scale":{"domain":[0,0.3],"nice":false,"zero":false},"axis":{"values":[0,0.05,0.1,0.15,0.2,0.25,0.3],"labelExpr":"replace(format(datum.value,'.2f'),'.',',')"}},
"y":{"field":"y","type":"quantitative","title":"CDF","scale":{"domain":[0,1],"nice":false},"axis":{"values":[0,0.2,0.4,0.6,0.8,1],"titlePadding":3,"labelExpr":"replace(format(datum.value,'.1f'),'.',',')"}},
"color":{"field":"s","type":"nominal","title":null,"scale":{"domain":["Comp 01","Comp 02","Comp 03","Comp 04","Comp 05","Comp 06","Comp 07","Comp 08","Comp 10","Comp 11","Comp 12","Mean"],"range":["#5B9BD5","#ED7D31","#A5A5A5","#FFC000","#4472C4","#70AD47","#255E91","#9E480E","#636363","#997300","#264478","#000000"]},"legend":{"offset":14}},
"strokeDash":{"field":"s","type":"nominal","title":null,"scale":{"domain":["Comp 01","Comp 02","Comp 03","Comp 04","Comp 05","Comp 06","Comp 07","Comp 08","Comp 10","Comp 11","Comp 12","Mean"],"range":[[1,0],[1,0],[1,0],[1,0],[1,0],[1,0],[1,0],[1,0],[1,0],[1,0],[1,0],[5,3]]},"legend":{"offset":14}}
}}
],
"spacing":33,
"title":{"text":"(a)","orient":"bottom","anchor":"middle","fontSize":18,"fontWeight":"bold","font":"Liberation Sans","color":"#000000","offset":16},
"resolve":{"scale":{"color":"independent","strokeDash":"independent","x":"independent","y":"independent"},"legend":{"color":"independent","strokeDash":"independent"}}
},
{"hconcat":[
{"width":207,"height":128,"data":{"name":"bP"},"mark":{"type":"line","clip":true},
"encoding":{
"x":{"field":"x","type":"quantitative","title":"PGA/g","scale":{"domain":[0,0.4],"nice":false,"zero":false},"axis":{"values":[0,0.05,0.1,0.15,0.2,0.25,0.3,0.35,0.4],"labelExpr":"replace(format(datum.value,'.2f'),'.',',')"}},
"y":{"field":"y","type":"quantitative","title":"PDF","scale":{"domain":[0,0.012],"nice":false},"axis":{"values":[0,0.002,0.004,0.006,0.008,0.01,0.012],"titlePadding":6,"labelExpr":"replace(format(datum.value,'.3f'),'.',',')"}},
"color":{"field":"s","type":"nominal","title":null,"scale":{"domain":["Comp C01","Comp C02","Comp C03","Comp C04","Comp C05","Comp C06","Comp C07","Comp C08","Comp C10","Comp C11","Comp C12","Mean"],"range":["#5B9BD5","#ED7D31","#A5A5A5","#FFC000","#4472C4","#70AD47","#255E91","#9E480E","#636363","#997300","#264478","#000000"]},"legend":{"offset":13,"clipHeight":13.2}},
"strokeDash":{"field":"s","type":"nominal","title":null,"scale":{"domain":["Comp C01","Comp C02","Comp C03","Comp C04","Comp C05","Comp C06","Comp C07","Comp C08","Comp C10","Comp C11","Comp C12","Mean"],"range":[[1,0],[1,0],[1,0],[1,0],[1,0],[1,0],[1,0],[1,0],[1,0],[1,0],[1,0],[5,3]]},"legend":{"offset":13,"clipHeight":13.2}}
}},
{"width":205,"height":128,"data":{"name":"bC"},"mark":{"type":"line","clip":true},
"encoding":{
"x":{"field":"x","type":"quantitative","title":"PGA/g","scale":{"domain":[0,0.3],"nice":false,"zero":false},"axis":{"values":[0,0.05,0.1,0.15,0.2,0.25,0.3],"labelExpr":"replace(format(datum.value,'.2f'),'.',',')"}},
"y":{"field":"y","type":"quantitative","title":"CDF","scale":{"domain":[0,1],"nice":false},"axis":{"values":[0,0.2,0.4,0.6,0.8,1],"titlePadding":3,"labelExpr":"replace(format(datum.value,'.1f'),'.',',')"}},
"color":{"field":"s","type":"nominal","title":null,"scale":{"domain":["Comp C01","Comp C02","Comp C03","Comp C04","Comp C05","Comp C06","Comp C07","Comp C08","Comp C10","Comp C11","Comp C12","Mean"],"range":["#5B9BD5","#ED7D31","#A5A5A5","#FFC000","#4472C4","#70AD47","#255E91","#9E480E","#636363","#997300","#264478","#000000"]},"legend":{"offset":14,"clipHeight":13.2}},
"strokeDash":{"field":"s","type":"nominal","title":null,"scale":{"domain":["Comp C01","Comp C02","Comp C03","Comp C04","Comp C05","Comp C06","Comp C07","Comp C08","Comp C10","Comp C11","Comp C12","Mean"],"range":[[1,0],[1,0],[1,0],[1,0],[1,0],[1,0],[1,0],[1,0],[1,0],[1,0],[1,0],[5,3]]},"legend":{"offset":14,"clipHeight":13.2}}
}}
],
"spacing":25,
"title":{"text":"(b)","orient":"bottom","anchor":"middle","fontSize":18,"fontWeight":"bold","font":"Liberation Sans","color":"#000000","offset":0},
"resolve":{"scale":{"color":"independent","strokeDash":"independent","x":"independent","y":"independent"},"legend":{"color":"independent","strokeDash":"independent"}}
},
{"hconcat":[
{"width":208,"height":128,"data":{"name":"cP"},"mark":{"type":"line","clip":true},
"encoding":{
"x":{"field":"x","type":"quantitative","title":"PGA/g","scale":{"domain":[0,0.4],"nice":false,"zero":false},"axis":{"values":[0,0.1,0.2,0.3,0.4],"labelExpr":"replace(format(datum.value,'.2f'),'.',',')"}},
"y":{"field":"y","type":"quantitative","title":"PDF","scale":{"domain":[0,0.01],"nice":false},"axis":{"values":[0,0.002,0.004,0.006,0.008,0.01],"titlePadding":6,"labelExpr":"replace(format(datum.value,'.3f'),'.',',')"}},
"color":{"field":"s","type":"nominal","title":null,"scale":{"domain":["Comp 01","Comp 02","Comp 03","Comp 04","Comp 05","Comp 06","Comp 07","Comp 08","Comp 10","Comp 11","Comp 12","Mean"],"range":["#5B9BD5","#ED7D31","#A5A5A5","#FFC000","#4472C4","#70AD47","#255E91","#9E480E","#636363","#997300","#264478","#000000"]},"legend":{"offset":13,"clipHeight":13}},
"strokeDash":{"field":"s","type":"nominal","title":null,"scale":{"domain":["Comp 01","Comp 02","Comp 03","Comp 04","Comp 05","Comp 06","Comp 07","Comp 08","Comp 10","Comp 11","Comp 12","Mean"],"range":[[1,0],[1,0],[1,0],[1,0],[1,0],[1,0],[1,0],[1,0],[1,0],[1,0],[1,0],[5,3]]},"legend":{"offset":13,"clipHeight":13}}
}},
{"width":209,"height":128,"data":{"name":"cC"},"mark":{"type":"line","clip":true},
"encoding":{
"x":{"field":"x","type":"quantitative","title":"PGA/g","scale":{"domain":[0,0.3],"nice":false,"zero":false},"axis":{"values":[0,0.05,0.1,0.15,0.2,0.25,0.3],"labelExpr":"replace(format(datum.value,'.2f'),'.',',')"}},
"y":{"field":"y","type":"quantitative","title":"CDF","scale":{"domain":[0,1],"nice":false},"axis":{"values":[0,0.2,0.4,0.6,0.8,1],"titlePadding":3,"labelExpr":"replace(format(datum.value,'.1f'),'.',',')"}},
"color":{"field":"s","type":"nominal","title":null,"scale":{"domain":["Comp 01","Comp 02","Comp 03","Comp 04","Comp 05","Comp 06","Comp 07","Comp 08","Comp 10","Comp 11","Comp 12","Mean"],"range":["#5B9BD5","#ED7D31","#A5A5A5","#FFC000","#4472C4","#70AD47","#255E91","#9E480E","#636363","#997300","#264478","#000000"]},"legend":{"offset":12,"clipHeight":13}},
"strokeDash":{"field":"s","type":"nominal","title":null,"scale":{"domain":["Comp 01","Comp 02","Comp 03","Comp 04","Comp 05","Comp 06","Comp 07","Comp 08","Comp 10","Comp 11","Comp 12","Mean"],"range":[[1,0],[1,0],[1,0],[1,0],[1,0],[1,0],[1,0],[1,0],[1,0],[1,0],[1,0],[5,3]]},"legend":{"offset":12,"clipHeight":13}}
}}
],
"spacing":33,
"title":{"text":"(c)","orient":"bottom","anchor":"middle","fontSize":18,"fontWeight":"bold","font":"Liberation Sans","color":"#000000","offset":6},
"resolve":{"scale":{"color":"independent","strokeDash":"independent","x":"independent","y":"independent"},"legend":{"color":"independent","strokeDash":"independent"}}
}
],
"resolve":{"scale":{"color":"independent","strokeDash":"independent","x":"independent","y":"independent"},"legend":{"color":"independent","strokeDash":"independent"}}
}
